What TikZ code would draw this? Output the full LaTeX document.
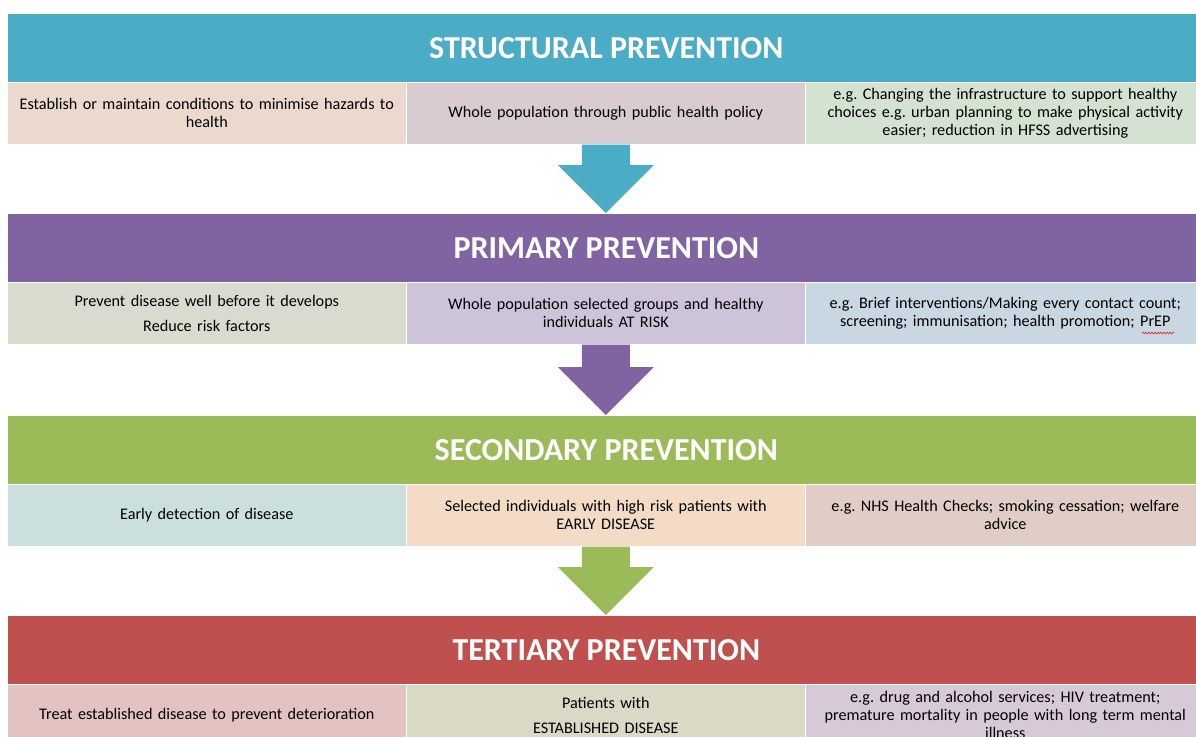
\documentclass[tikz,border=0pt]{standalone}
\usepackage{fontspec}
\setmainfont{Carlito}
\usetikzlibrary{calc,decorations.pathmorphing}
\definecolor{sAqua}{HTML}{4BACC6}
\definecolor{sPurple}{HTML}{8064A2}
\definecolor{sGreen}{HTML}{9BBB59}
\definecolor{sRed}{HTML}{C0504D}
\definecolor{cSa}{HTML}{EBD9CF}
\definecolor{cSb}{HTML}{D9CCD0}
\definecolor{cSc}{HTML}{D3E2D1}
\definecolor{cPa}{HTML}{D8DCCE}
\definecolor{cPb}{HTML}{CDC4DA}
\definecolor{cPc}{HTML}{C9D7E3}
\definecolor{cEa}{HTML}{CBDFDE}
\definecolor{cEb}{HTML}{F3DBC6}
\definecolor{cEc}{HTML}{E0CDC5}
\definecolor{cTa}{HTML}{E3C2C2}
\definecolor{cTb}{HTML}{D9D9C6}
\definecolor{cTc}{HTML}{D8C9D8}
\definecolor{spell}{HTML}{E03030}
\frenchspacing
\newcommand{\preventarrow}[3]{%
  \fill[#1] ($(#2.south)+(-24,0)$) -- ($(#2.south)+(24,0)$)
    -- ($(#3.north -| #2.south)+(24,-48)$) -- ($(#3.north -| #2.south)+(48,-48)$)
    -- (#3.north -| #2.south)
    -- ($(#3.north -| #2.south)+(-48,-48)$) -- ($(#3.north -| #2.south)+(-24,-48)$) -- cycle;}
\begin{document}
\begin{tikzpicture}[x=1pt,y=-1pt,
  header/.style={fill=#1, draw=white, line width=0.6pt, minimum width=1198pt,
    minimum height=69pt, inner sep=0pt, anchor=north west, text=white,
    font=\fontsize{32}{36}\selectfont\bfseries},
  cell/.style={fill=#1, draw=white, line width=0.6pt, minimum width=399pt,
    minimum height=62pt, inner sep=0pt, anchor=north west, text width=395pt,
    align=center, font=\fontsize{16.2}{18}\selectfont},
  wcell/.style={cell=#1, minimum width=400pt}]
\useasboundingbox (0,0) rectangle (1196,736);
\clip (0,0) rectangle (1196,736);
% Structural
\node[header=sAqua] (h0) at (7,13) {STRUCTURAL PREVENTION};
\node[cell=cSa] (s1) at (7,82) {Establish or maintain conditions to minimise hazards to\\health};
\node[cell=cSb] (s2) at (406,82) {Whole population through public health policy};
\node[wcell=cSc] (s3) at (805,82) {e.g. Changing the infrastructure to support healthy\\choices e.g. urban planning to make physical activity\\easier; reduction in HFSS advertising};
% Primary
\node[header=sPurple] (h1) at (7,213) {PRIMARY PREVENTION};
\node[cell=cPa] (p1) at (7,282) {Prevent disease well before it develops\\[7pt]Reduce risk factors};
\node[cell=cPb] (p2) at (406,282) {Whole population selected groups and healthy\\individuals AT RISK};
\node[wcell=cPc] (p3) at (805,282) {e.g. Brief interventions/Making every contact count;\\screening; immunisation; health promotion; PrEP};
\draw[spell, line width=0.7pt, decorate, decoration={snake, amplitude=0.9pt, segment length=3pt}]
  ($(p3.north west)+(337,51)$) -- ($(p3.north west)+(369,51)$);
% Secondary
\node[header=sGreen] (h2) at (7,415) {SECONDARY PREVENTION};
\node[cell=cEa] (e1) at (7,484) {Early detection of disease};
\node[cell=cEb] (e2) at (406,484) {Selected individuals with high risk patients with\\EARLY DISEASE};
\node[wcell=cEc] (e3) at (805,484) {e.g. NHS Health Checks; smoking cessation; welfare\\advice};
% Tertiary
\node[header=sRed] (h3) at (7,615) {TERTIARY PREVENTION};
\node[cell=cTa] (t1) at (7,684) {Treat established disease to prevent deterioration};
\node[cell=cTb] (t2) at (406,684) {Patients with\\[7pt]ESTABLISHED DISEASE};
\node[wcell=cTc] (t3) at (805,684) {e.g. drug and alcohol services; HIV treatment;\\premature mortality in people with long term mental\\illness};
% Arrows
\preventarrow{sAqua}{s2}{h1}
\preventarrow{sPurple}{p2}{h2}
\preventarrow{sGreen}{e2}{h3}
\end{tikzpicture}
\end{document}
